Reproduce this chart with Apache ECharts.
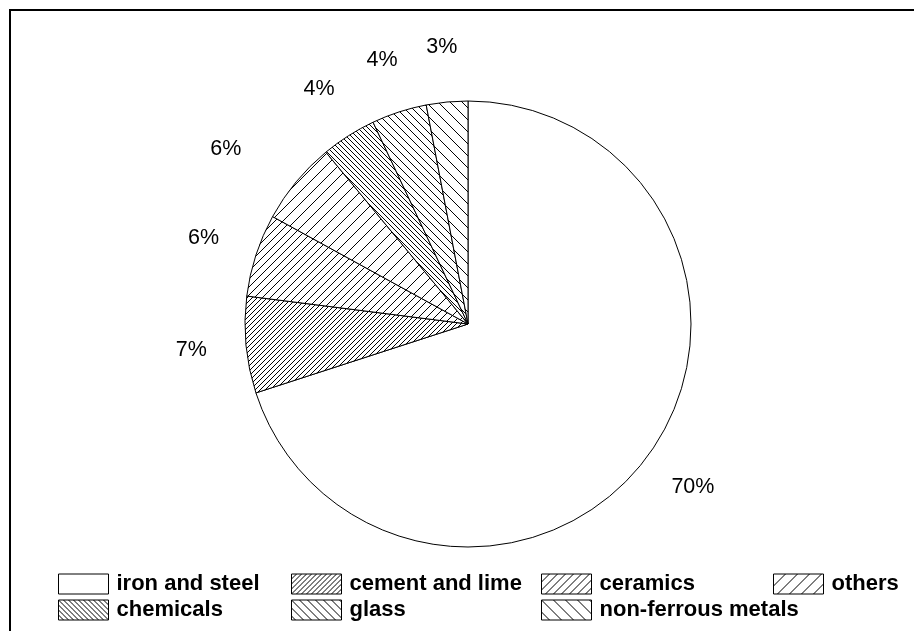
<!DOCTYPE html>
<html>
<head>
<meta charset="utf-8">
<script src="https://cdn.jsdelivr.net/npm/echarts@6/dist/echarts.min.js"></script>
<style>
  html, body { margin: 0; padding: 0; background: #fff; }
  #chart { width: 914px; height: 631px; }
</style>
</head>
<body>
<div id="chart"></div>
<script>
// Energy use by industrial sector (share, %)
const categories = ['iron and steel', 'cement and lime', 'ceramics', 'others', 'chemicals', 'glass', 'non-ferrous metals'];
const shares = [70, 7, 6, 6, 4, 4, 3];

// Hatch style per sector: direction (1 = "/", -1 = "\", 0 = plain) and line spacing
const hatchDir = [0, 1, 1, 1, -1, -1, -1];
const hatchGap = [0, 5, 8, 12, 5, 8, 12];

// Legend laid out as a grid, one legend per column
const legendColumns = [
  ['iron and steel', 'chemicals'],
  ['cement and lime', 'glass'],
  ['ceramics', 'non-ferrous metals'],
  ['others']
];
const legendLefts = [58, 291, 541, 773];

const FONT = '"Liberation Sans", Arial, Helvetica, sans-serif';

function hatch(dir, gap) {
  if (!dir) return '#ffffff';
  const c = document.createElement('canvas');
  c.width = gap; c.height = gap;
  const g = c.getContext('2d');
  g.fillStyle = '#ffffff';
  g.fillRect(0, 0, gap, gap);
  g.strokeStyle = '#000000';
  g.lineWidth = 1;
  g.beginPath();
  for (let k = -1; k <= 1; k++) {
    if (dir > 0) {
      g.moveTo(k * gap - 1, gap + 1);
      g.lineTo(k * gap + gap + 1, -1);
    } else {
      g.moveTo(k * gap - 1, -1);
      g.lineTo(k * gap + gap + 1, gap + 1);
    }
  }
  g.stroke();
  return { image: c, repeat: 'repeat' };
}

const fills = categories.map((_, i) => hatch(hatchDir[i], hatchGap[i]));
const OTHERS = categories.indexOf('others');

const chart = echarts.init(document.getElementById('chart'), null, { renderer: 'canvas' });

chart.setOption({
  animation: false,
  backgroundColor: '#ffffff',
  graphic: [{
    type: 'rect',
    silent: true,
    z: -10,
    shape: { x: 10, y: 10, width: 1000, height: 1000 },
    style: { fill: 'none', stroke: '#000000', lineWidth: 2 }
  }],
  legend: legendColumns.map((col, i) => ({
    orient: 'vertical',
    left: legendLefts[i],
    top: 573,
    padding: 0,
    itemWidth: 50,
    itemHeight: 20,
    itemGap: 4,
    icon: 'rect',
    selectedMode: false,
    data: col,
    itemStyle: { borderColor: '#000000', borderWidth: 1 },
    textStyle: {
      fontFamily: FONT,
      fontSize: 22,
      fontWeight: 'bold',
      color: '#000000',
      lineHeight: 20,
      padding: [0, 0, 0, 3]
    }
  })),
  series: [
    {
      name: 'sectors',
      type: 'pie',
      center: [468, 324],
      radius: 223,
      startAngle: 90,
      clockwise: true,
      label: { show: false },
      labelLine: { show: false },
      emphasis: { disabled: true },
      itemStyle: { borderColor: '#000000', borderWidth: 1 },
      data: categories.map((n, i) => ({ name: n, value: shares[i], itemStyle: { color: fills[i] } }))
    },
    {
      // transparent ring that carries the percentage labels outside the pie
      name: 'labels',
      type: 'pie',
      center: [468, 324],
      radius: [223, 327],
      startAngle: 90,
      clockwise: true,
      silent: true,
      emphasis: { disabled: true },
      itemStyle: { color: 'rgba(0,0,0,0)', borderWidth: 0 },
      labelLine: { show: false },
      label: {
        show: true,
        position: 'inside',
        formatter: '{c}%',
        fontFamily: FONT,
        fontSize: 21.5,
        color: '#000000'
      },
      labelLayout: function (p) {
        if (p.dataIndex === OTHERS) return { dx: -28, dy: 2 };
      },
      data: categories.map((n, i) => ({ name: n, value: shares[i] }))
    }
  ]
});
</script>
</body>
</html>
